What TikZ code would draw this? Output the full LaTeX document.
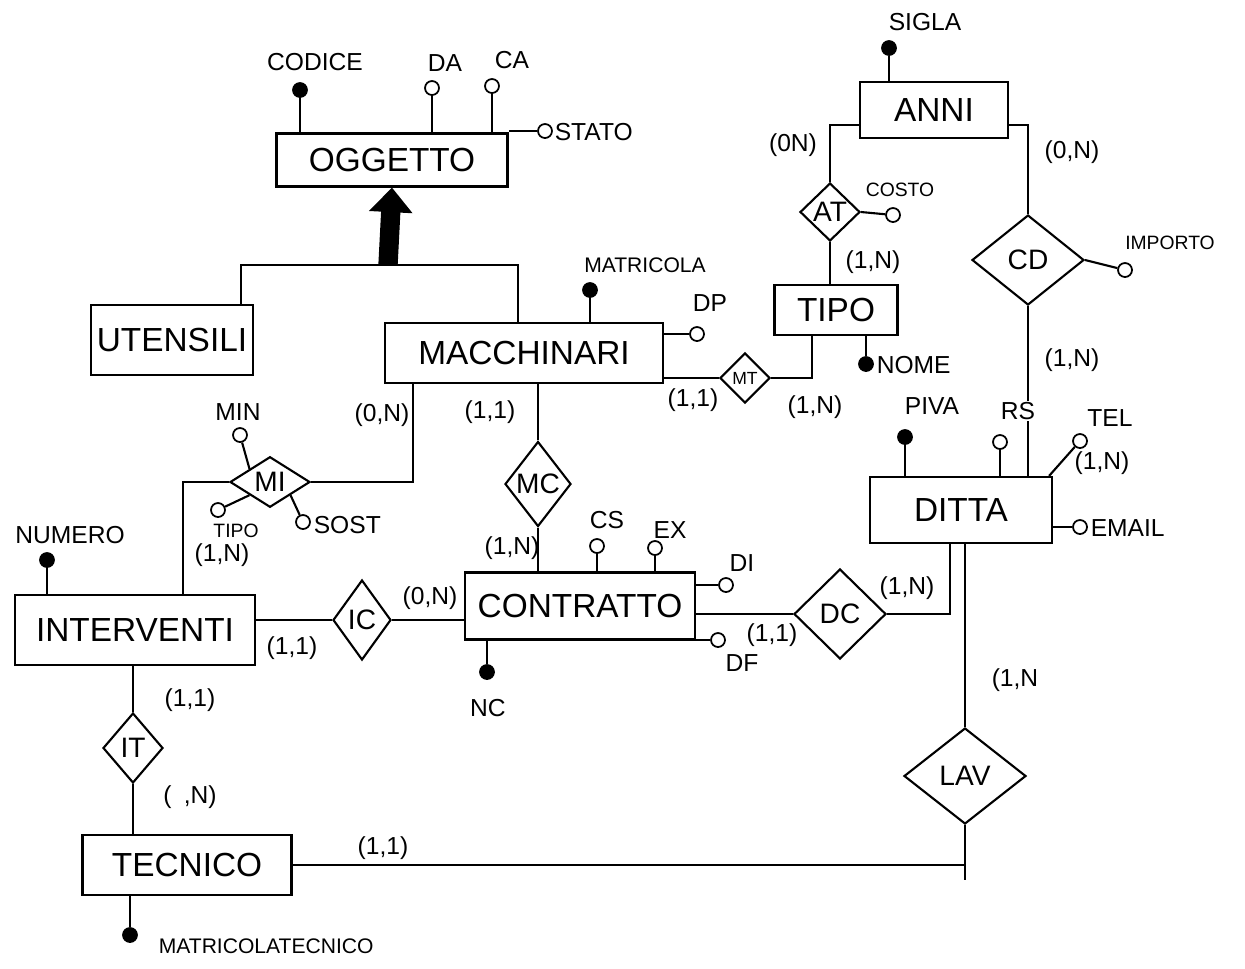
\documentclass[tikz,border=0pt]{standalone}
\usepackage{fontspec}
\setmainfont{Liberation Sans}
\usepackage{tikz}
\usetikzlibrary{
    shapes.geometric,
    arrows.meta,
    positioning,
    calc
}

\begin{document}
\begin{tikzpicture}[
        x=0.02cm, y=-0.02cm, line width=1.2pt,
        ent/.style={rectangle, draw, font=\fontsize{19}{22}\selectfont},
        rel/.style={diamond, draw, inner sep=0pt, font=\fontsize{16}{18}\selectfont},
        attr/.style={circle, draw, line width=1pt, fill=white, minimum size=0.28cm, inner sep=0pt},
        key/.style={attr, fill=black},
        lbl/.style={inner sep=1pt, font=\fontsize{14}{16}\selectfont},
        small/.style={inner sep=1pt, font=\fontsize{11}{13}\selectfont},
        card/.style={inner sep=1pt, font=\fontsize{14}{16}\selectfont},
        isa/.style={line width=11pt, -{Triangle[length=14pt, width=24pt]}}
    ]
        \useasboundingbox (0,0) rectangle (1245,968);

        % Entities
        \node[ent, minimum width=4.62cm, minimum height=1.06cm] (oggetto) at (392,160) {OGGETTO};
        \node[ent, minimum width=2.9cm, minimum height=1.4cm] (utensili) at (172,340) {UTENSILI};
        \node[ent, minimum width=5.56cm, minimum height=1.2cm] (macchinari) at (524,353) {MACCHINARI};
        \node[ent, minimum width=2.46cm, minimum height=1cm] (tipo) at (836,310) {TIPO};
        \node[ent, minimum width=2.96cm, minimum height=1.12cm] (anni) at (934,110) {ANNI};
        \node[ent, minimum width=3.64cm, minimum height=1.32cm] (ditta) at (961,510) {DITTA};
        \node[ent, minimum width=4.6cm, minimum height=1.34cm] (contratto) at (580,606) {CONTRATTO};
        \node[ent, minimum width=4.8cm, minimum height=1.4cm] (interventi) at (135,630) {INTERVENTI};
        \node[ent, minimum width=4.18cm, minimum height=1.2cm] (tecnico) at (187,865) {TECNICO};

        % Relationships
        \node[rel, minimum width=1.2cm, minimum height=1.16cm] (at) at (830,212) {AT};
        \node[rel, minimum width=2.24cm, minimum height=1.8cm] (cd) at (1028,260) {CD};
        \node[rel, minimum width=1cm, minimum height=1cm, font=\fontsize{10}{12}\selectfont] (mt) at (745,378) {MT};
        \node[rel, minimum width=1.32cm, minimum height=1.7cm] (mc) at (538,484) {MC};
        \node[rel, minimum width=1.6cm, minimum height=1cm] (mi) at (270,482) {MI};
        \node[rel, minimum width=1.16cm, minimum height=1.6cm] (ic) at (362,620) {IC};
        \node[rel, minimum width=1.84cm, minimum height=1.8cm] (dc) at (840,614) {DC};
        \node[rel, minimum width=1.2cm, minimum height=1.4cm] (it) at (133,748) {IT};
        \node[rel, minimum width=2.44cm, minimum height=1.92cm] (lav) at (965,776) {LAV};

        % Generalization
        \coordinate (isa) at (388,265);
        \draw ([xshift=-0.26cm]utensili.north east) |- (isa) -| ([xshift=-0.12cm]macchinari.north);
        \draw[isa] (isa) -- (oggetto.south);

        % Oggetto attributes
        \node[key] (codice) at (300,90) {};
        \node[lbl] (codice-l) at (315,62) {CODICE};
        \node[attr] (da) at (432,88) {};
        \node[lbl] (da-l) at (445,63) {DA};
        \node[attr] (ca) at (492,86) {};
        \node[lbl] (ca-l) at (512,60) {CA};
        \node[attr] (stato) at (545,131) {};
        \node[lbl, anchor=west] (stato-l) at (552,132) {STATO};
        \draw (codice) -- (codice |- oggetto.north);
        \draw (da) -- (da |- oggetto.north);
        \draw (ca) -- (ca |- oggetto.north);
        \draw (stato) -- (stato -| oggetto.east);

        % Macchinari attributes
        \node[key] (matricola) at (590,290) {};
        \node[small, font=\fontsize{12}{14}\selectfont] (matricola-l) at (645,265) {MATRICOLA};
        \node[attr] (dp) at (697,334) {};
        \node[lbl] (dp-l) at (710,303) {DP};
        \draw (matricola) -- (matricola |- macchinari.north);
        \draw (dp) -- (dp -| macchinari.east);

        % Tipo and Anni
        \node[key] (nome) at (866,364) {};
        \node[lbl, anchor=west] (nome-l) at (874,365) {NOME};
        \draw (nome) -- (nome |- tipo.south);
        \node[key] (sigla) at (889,48) {};
        \node[lbl] (sigla-l) at (925,22) {SIGLA};
        \draw (sigla) -- (sigla |- anni.north);
        \node[attr] (costo) at (893,215) {};
        \node[small] (costo-l) at (900,190) {COSTO};
        \node[attr] (importo) at (1125,270) {};
        \node[small] (importo-l) at (1170,243) {IMPORTO};
        \draw ([yshift=-0.3cm]anni.west) -| (at.north);
        \draw (at.south) -- (at.south |- tipo.north);
        \draw (at.east) -- (costo);
        \draw ([yshift=-0.3cm]anni.east) -| (cd.north);
        \draw (cd.south) -- (cd.south |- ditta.north);
        \draw (cd.east) -- (importo);
        \node[card] (c-at1) at (793,145) {(0N)};
        \node[card] (c-at2) at (873,262) {(1,N)};
        \node[card] (c-cd1) at (1072,152) {(0,N)};
        \node[card] (c-cd2) at (1072,360) {(1,N)};

        % MT
        \draw (mt.west) -- (mt.west -| macchinari.east);
        \draw (mt.east) -| ([xshift=-0.48cm]tipo.south);
        \node[card] (c-mt1) at (693,400) {(1,1)};
        \node[card] (c-mt2) at (815,407) {(1,N)};

        % Ditta attributes
        \node[key] (piva) at (905,437) {};
        \node[lbl] (piva-l) at (932,406) {PIVA};
        \node[attr] (rs) at (1000,442) {};
        \node[lbl, fill=white] (rs-l) at (1018,411) {RS};
        \node[attr] (tel) at (1080,441) {};
        \node[lbl] (tel-l) at (1110,418) {TEL};
        \node[card] (c-tel) at (1102,463) {(1,N)};
        \node[attr] (email) at (1080,527) {};
        \node[lbl, anchor=west] (email-l) at (1088,528) {EMAIL};
        \draw (piva) -- (piva |- ditta.north);
        \draw (rs) -- (rs |- ditta.north);
        \draw (tel) -- ([xshift=-0.08cm]ditta.north east);
        \draw (email) -- (email -| ditta.east);

        % MI
        \node[attr] (min) at (240,435) {};
        \node[lbl] (min-l) at (238,412) {MIN};
        \node[attr] (tipo-a) at (218,510) {};
        \node[small] (tipo-a-l) at (236,531) {TIPO};
        \node[attr] (sost) at (303,522) {};
        \node[lbl, anchor=west] (sost-l) at (311,525) {SOST};
        \draw (min) -- (mi.north west);
        \draw (tipo-a) -- (mi.south west);
        \draw (sost) -- (mi.south east);
        \draw (mi.west) -| ([xshift=0.96cm]interventi.north);
        \draw (mi.east) -| ([xshift=-2.22cm]macchinari.south);
        \node[card] (c-mi1) at (382,415) {(0,N)};
        \node[card] (c-mi2) at (222,555) {(1,N)};

        % MC
        \draw (mc.north) -- (mc.north |- macchinari.south);
        \draw (mc.south) -- (mc.south |- contratto.north);
        \node[card] (c-mc1) at (490,412) {(1,1)};
        \node[card] (c-mc2) at (512,548) {(1,N)};

        % Contratto attributes
        \node[attr] (cs) at (597,546) {};
        \node[lbl] (cs-l) at (607,520) {CS};
        \node[attr] (ex) at (655,548) {};
        \node[lbl] (ex-l) at (670,530) {EX};
        \node[attr] (di) at (726,585) {};
        \node[lbl] (di-l) at (742,563) {DI};
        \node[attr] (df) at (718,640) {};
        \node[lbl] (df-l) at (742,663) {DF};
        \node[key] (nc) at (487,672) {};
        \node[lbl] (nc-l) at (488,708) {NC};
        \draw (cs) -- (cs |- contratto.north);
        \draw (ex) -- (ex |- contratto.north);
        \draw (di) -- (di -| contratto.east);
        \draw (df) -- (df -| contratto.east);
        \draw (nc) -- (nc |- contratto.south);

        % IC and DC
        \draw (ic.west) -- (ic.west -| interventi.east);
        \draw (ic.east) -- (ic.east -| contratto.west);
        \node[card] (c-ic1) at (292,648) {(1,1)};
        \node[card] (c-ic2) at (430,598) {(0,N)};
        \draw (dc.west) -- (dc.west -| contratto.east);
        \draw (dc.east) -| ([xshift=-0.22cm]ditta.south);
        \node[card] (c-dc1) at (772,635) {(1,1)};
        \node[card] (c-dc2) at (907,588) {(1,N)};

        % Interventi and Tecnico
        \node[key] (numero) at (47,560) {};
        \node[lbl] (numero-l) at (70,535) {NUMERO};
        \draw (numero) -- (numero |- interventi.north);
        \draw (it.north) -- (it.north |- interventi.south);
        \draw (it.south) -- (it.south |- tecnico.north);
        \node[card] (c-it1) at (190,700) {(1,1)};
        \node[card] (c-it2) at (190,797) {(\enspace,N)};
        \node[key] (matrtec) at (130,935) {};
        \node[lbl, anchor=west, font=\fontsize{12}{14}\selectfont] (matrtec-l) at (156,946) {MATRICOLATECNICO};
        \draw (matrtec) -- (matrtec |- tecnico.south);

        % LAV
        \draw (lav.north) -- (lav.north |- ditta.south);
        \draw (tecnico.east) -- (tecnico.east -| lav.south);
        \draw (lav.south) -- ([yshift=-0.3cm]tecnico.east -| lav.south);
        \node[card] (c-lav1) at (1015,680) {(1,N};
        \node[card] (c-lav2) at (383,848) {(1,1)};
    \end{tikzpicture}
\end{document}
